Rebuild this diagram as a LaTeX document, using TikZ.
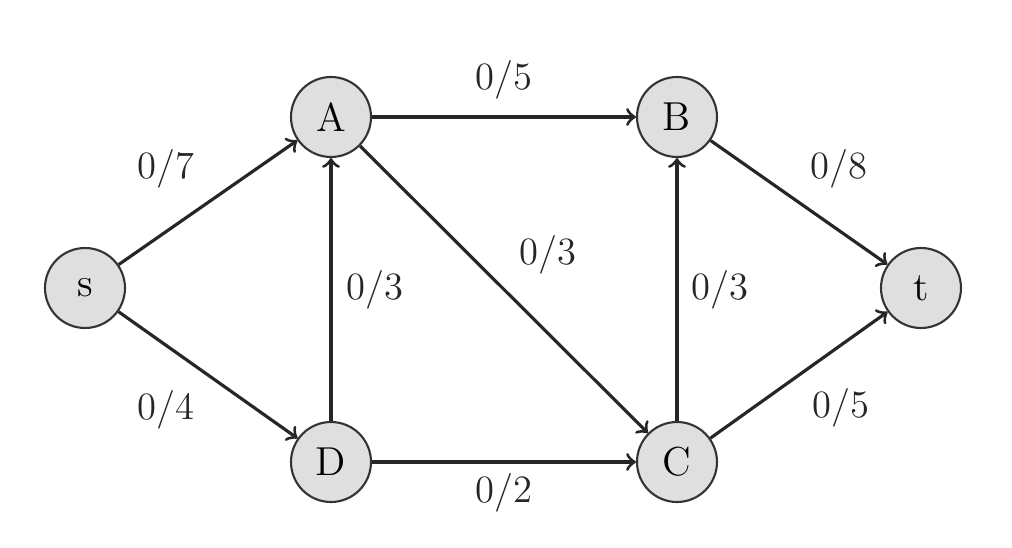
\documentclass[tikz,border=0pt]{standalone}
\begin{document}
\begin{tikzpicture}[
  vert/.style={circle, draw=black!80, fill=gray!25, semithick, minimum size=0.8cm, inner sep=0pt, font=\fontsize{11.5}{13}\selectfont},
  flow/.style={->, line width=0.9pt, black!85},
  lab/.style={font=\fontsize{11}{13}\selectfont, text=black!85}
]
\useasboundingbox (0,0) rectangle (10.12,5.48);
\node[vert] (s) at (0.85,2.60) {s};
\node[vert] (A) at (3.31,4.31) {A};
\node[vert] (B) at (6.77,4.31) {B};
\node[vert] (t) at (9.21,2.60) {t};
\node[vert] (D) at (3.31,0.86) {D};
\node[vert] (C) at (6.77,0.86) {C};
\draw[flow] (s) -- node[lab, shift={(-0.42,0.34)}] {0/7} (A);
\draw[flow] (s) -- node[lab, shift={(-0.42,-0.35)}] {0/4} (D);
\draw[flow] (A) -- node[lab, shift={(0,0.37)}] {0/5} (B);
\draw[flow] (D) -- node[lab, shift={(0,-0.31)}] {0/2} (C);
\draw[flow] (D) -- node[lab, shift={(0.44,0)}] {0/3} (A);
\draw[flow] (A) -- node[lab, shift={(0.44,0.35)}] {0/3} (C);
\draw[flow] (C) -- node[lab, shift={(0.43,0)}] {0/3} (B);
\draw[flow] (B) -- node[lab, shift={(0.40,0.34)}] {0/8} (t);
\draw[flow] (C) -- node[lab, shift={(0.42,-0.33)}] {0/5} (t);
\end{tikzpicture}
\end{document}
